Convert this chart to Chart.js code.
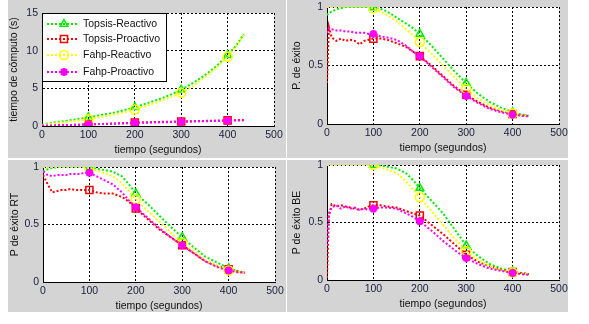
<!DOCTYPE html>
<html>
<head>
<meta charset="utf-8">
<script src="https://cdn.jsdelivr.net/npm/chart.js@4/dist/chart.umd.min.js"></script>
<style>
  body { margin: 0; background: #fff; }
  .panel { position: absolute; background: #d4d4d4; }
</style>
</head>
<body>
<div class="panel" style="left:8px;top:0;width:278px;height:158px"><canvas id="c1"></canvas></div>
<div class="panel" style="left:287px;top:0;width:281px;height:158px"><canvas id="c2"></canvas></div>
<div class="panel" style="left:8px;top:160px;width:278px;height:152px"><canvas id="c3"></canvas></div>
<div class="panel" style="left:287px;top:160px;width:281px;height:152px"><canvas id="c4"></canvas></div>
<script>
// ---------- DATA ----------
const tiempo = [0, 4, 10, 20, 30, 40, 50, 60, 70, 80, 90, 100, 115, 130, 150, 170, 185, 200, 225, 250, 275, 300, 325, 350, 375, 400, 420, 435];
const marcas = [100, 200, 300, 400];
const nombres = ["Topsis-Reactivo", "Topsis-Proactivo", "Fahp-Reactivo", "Fahp-Proactivo"];

// tiempo de cómputo (s)
const computoTopsisR = [0.15, 0.2, 0.3, 0.4, 0.5, 0.6, 0.65, 0.75, 0.85, 0.95, 1.05, 1.15, 1.3, 1.5, 1.7, 2.0, 2.25, 2.5, 3.0, 3.5, 4.1, 4.8, 5.7, 6.7, 7.9, 9.4, 10.8, 12.2];
const computoTopsisP = [0.05, 0.05, 0.06, 0.07, 0.09, 0.1, 0.12, 0.14, 0.16, 0.18, 0.19, 0.2, 0.24, 0.28, 0.32, 0.37, 0.41, 0.45, 0.5, 0.54, 0.57, 0.6, 0.64, 0.68, 0.72, 0.75, 0.78, 0.8];
const computoFahpR = [0.1, 0.15, 0.2, 0.3, 0.35, 0.45, 0.5, 0.6, 0.7, 0.75, 0.85, 0.9, 1.05, 1.25, 1.45, 1.7, 1.95, 2.2, 2.7, 3.2, 3.8, 4.4, 5.3, 6.4, 7.7, 9.2, 10.7, 12.1];
const computoFahpP = [0.05, 0.05, 0.06, 0.07, 0.08, 0.09, 0.11, 0.13, 0.15, 0.17, 0.19, 0.2, 0.23, 0.26, 0.29, 0.33, 0.37, 0.4, 0.44, 0.48, 0.52, 0.55, 0.59, 0.63, 0.67, 0.7, 0.73, 0.75];

// P. de éxito
const exitoTopsisR = [0.93, 0.95, 0.96, 0.98, 0.99, 1, 1, 1, 1, 1, 1, 0.995, 0.985, 0.96, 0.91, 0.86, 0.82, 0.77, 0.67, 0.56, 0.45, 0.35, 0.26, 0.19, 0.14, 0.1, 0.08, 0.07];
const exitoTopsisP = [0.35, 0.83, 0.74, 0.71, 0.73, 0.71, 0.72, 0.71, 0.68, 0.71, 0.72, 0.73, 0.73, 0.72, 0.69, 0.66, 0.62, 0.58, 0.5, 0.41, 0.32, 0.25, 0.19, 0.14, 0.11, 0.085, 0.075, 0.07];
const exitoFahpR = [1, 1, 1, 1, 1, 1, 1, 1, 1, 1, 1, 0.99, 0.96, 0.93, 0.88, 0.81, 0.76, 0.7, 0.6, 0.5, 0.4, 0.3, 0.22, 0.16, 0.12, 0.09, 0.075, 0.07];
const exitoFahpP = [0.78, 0.82, 0.81, 0.8, 0.8, 0.79, 0.79, 0.78, 0.78, 0.78, 0.77, 0.77, 0.75, 0.74, 0.72, 0.67, 0.62, 0.58, 0.49, 0.4, 0.31, 0.24, 0.18, 0.13, 0.1, 0.08, 0.07, 0.065];

// P de éxito RT
const rtTopsisR = [0.96, 0.97, 0.98, 0.99, 1, 1, 1, 1, 1, 1, 1, 0.995, 0.985, 0.975, 0.96, 0.92, 0.85, 0.77, 0.68, 0.58, 0.48, 0.39, 0.3, 0.22, 0.17, 0.12, 0.095, 0.08];
const rtTopsisP = [0.93, 0.9, 0.85, 0.78, 0.79, 0.8, 0.8, 0.81, 0.8, 0.8, 0.8, 0.8, 0.78, 0.77, 0.77, 0.74, 0.7, 0.64, 0.55, 0.46, 0.39, 0.32, 0.25, 0.18, 0.14, 0.11, 0.09, 0.08];
const rtFahpR = [1, 1, 1, 1, 1, 1, 1, 1, 1, 1, 1, 0.995, 0.97, 0.95, 0.92, 0.86, 0.79, 0.72, 0.62, 0.53, 0.43, 0.34, 0.27, 0.19, 0.14, 0.1, 0.09, 0.08];
const rtFahpP = [0.96, 0.95, 0.93, 0.92, 0.93, 0.93, 0.93, 0.94, 0.94, 0.94, 0.95, 0.95, 0.92, 0.89, 0.85, 0.78, 0.71, 0.65, 0.56, 0.47, 0.39, 0.32, 0.25, 0.18, 0.13, 0.1, 0.085, 0.08];

// P de éxito BE
const beTopsisR = [1, 1, 1, 1, 1, 1, 1, 1, 1, 1, 1, 1, 0.995, 0.985, 0.97, 0.93, 0.87, 0.8, 0.69, 0.58, 0.44, 0.3, 0.21, 0.14, 0.1, 0.075, 0.06, 0.05];
const beTopsisP = [0.02, 0.55, 0.66, 0.64, 0.65, 0.64, 0.63, 0.62, 0.61, 0.62, 0.64, 0.65, 0.65, 0.64, 0.63, 0.6, 0.58, 0.56, 0.48, 0.4, 0.31, 0.22, 0.16, 0.12, 0.09, 0.07, 0.06, 0.05];
const beFahpR = [1, 1, 1, 1, 1, 1, 1, 1, 1, 1, 1, 1, 0.98, 0.96, 0.93, 0.86, 0.79, 0.72, 0.6, 0.48, 0.36, 0.25, 0.18, 0.12, 0.09, 0.065, 0.055, 0.05];
const beFahpP = [0.3, 0.58, 0.63, 0.65, 0.62, 0.64, 0.62, 0.63, 0.61, 0.62, 0.61, 0.62, 0.63, 0.63, 0.62, 0.58, 0.55, 0.51, 0.43, 0.34, 0.26, 0.19, 0.14, 0.1, 0.08, 0.06, 0.05, 0.045];

// ---------- STYLES ----------
const estilos = [
  { color: "#00ee00", point: "triangle", r: 4.5, order: 4 },
  { color: "#ff0000", point: "rect", r: 5, order: 3 },
  { color: "#ffff00", point: "circle", r: 4.5, order: 2 },
  { color: "#ff00ff", point: "star", r: 4, order: 1 }
];
const FONT = { family: "'Liberation Sans', Arial, sans-serif", size: 10.5 };
const TICKCOL = "#1c1c3c";

const plotBg = {
  id: "plotBg",
  beforeDraw(chart) {
    const a = chart.chartArea, ctx = chart.ctx;
    ctx.save();
    ctx.fillStyle = "#fff";
    ctx.fillRect(a.left, a.top, a.right - a.left, a.bottom - a.top);
    ctx.restore();
  }
};

const legendBox = {
  id: "legendBox",
  afterDraw(chart) {
    const a = chart.chartArea, ctx = chart.ctx;
    const x0 = a.left, y0 = a.top;
    ctx.save();
    ctx.fillStyle = "#fff";
    ctx.fillRect(x0, y0, 124, 68);
    ctx.strokeStyle = "#000";
    ctx.lineWidth = 1;
    ctx.strokeRect(x0 + 0.5, y0 + 0.5, 124, 68);
    const rows = [11, 26, 42, 59];
    chart.data.datasets.forEach((ds, i) => {
      const y = y0 + rows[i];
      const s = estilos[i];
      ctx.strokeStyle = s.color;
      ctx.lineWidth = 2;
      ctx.setLineDash([2, 2]);
      ctx.beginPath();
      ctx.moveTo(x0 + 5, y);
      ctx.lineTo(x0 + 37, y);
      ctx.stroke();
      ctx.setLineDash([]);
      ctx.fillStyle = s.point === "star" ? s.color : "rgba(0,0,0,0)";
      ctx.lineWidth = ds.pointBorderWidth;
      Chart.helpers.drawPoint(ctx, { pointStyle: s.point, radius: s.r, borderWidth: ds.pointBorderWidth }, x0 + 22, y);
      ctx.fillStyle = "#111";
      ctx.font = FONT.size + "px " + FONT.family;
      ctx.textBaseline = "middle";
      ctx.fillText(nombres[i], x0 + 41, y + 0.5);
    });
    ctx.restore();
  }
};

function makeChart(id, series, cfg) {
  const datasets = series.map((vals, i) => {
    const s = estilos[i];
    return {
      label: nombres[i],
      data: vals.map((v, j) => ({ x: tiempo[j], y: v })),
      borderColor: s.color,
      backgroundColor: "rgba(0,0,0,0)",
      borderWidth: 2,
      borderDash: [2, 2],
      pointStyle: s.point,
      pointBorderColor: s.color,
      pointBackgroundColor: s.point === "star" ? s.color : "rgba(0,0,0,0)",
      pointBorderWidth: s.point === "star" ? 2.5 : 1.5,
      pointRadius: ctx => marcas.includes(tiempo[ctx.dataIndex]) ? s.r : 0,
      tension: 0,
      order: s.order
    };
  });

  return new Chart(document.getElementById(id), {
    type: "line",
    data: { datasets },
    plugins: cfg.legend ? [plotBg, legendBox] : [plotBg],
    options: {
      responsive: true,
      maintainAspectRatio: false,
      animation: false,
      layout: { padding: { top: cfg.top, right: cfg.right, left: 0, bottom: 0 } },
      plugins: { legend: { display: false }, tooltip: { enabled: false } },
      scales: {
        x: {
          type: "linear",
          min: 0, max: 500,
          ticks: { stepSize: 100, color: TICKCOL, font: FONT, padding: 3, maxRotation: 0 },
          grid: { color: "#000", lineWidth: 1, drawTicks: false },
          border: { color: "#000", width: 1, dash: [2, 2] },
          title: { display: true, text: "tiempo (segundos)", color: "#111", font: FONT, padding: { top: 0, bottom: cfg.xtp } },
          afterFit(sc) { sc.height = cfg.xh; sc.paddingLeft = 0; sc.paddingRight = 0; }
        },
        y: {
          min: 0, max: cfg.ymax,
          ticks: { stepSize: cfg.step, color: TICKCOL, font: FONT, padding: 4, callback: v => String(+v.toFixed(2)) },
          grid: { color: "#000", lineWidth: 1, drawTicks: false },
          border: { color: "#000", width: 1, dash: [2, 2] },
          title: { display: true, text: cfg.ytitle, color: "#111", font: FONT, padding: { top: cfg.ytp, bottom: 0 } },
          afterFit(sc) { sc.width = cfg.yw; sc.paddingTop = 0; sc.paddingBottom = 0; }
        }
      }
    }
  });
}

makeChart("c1", [computoTopsisR, computoTopsisP, computoFahpR, computoFahpP],
  { ymax: 15, step: 5, ytitle: "tiempo de cómputo (s)", top: 13, right: 12, yw: 34, xh: 32, xtp: 2, ytp: 0, legend: true });
makeChart("c2", [exitoTopsisR, exitoTopsisP, exitoFahpR, exitoFahpP],
  { ymax: 1, step: 0.5, ytitle: "P. de éxito", top: 7, right: 9, yw: 40, xh: 34, xtp: 4, ytp: 4 });
makeChart("c3", [rtTopsisR, rtTopsisP, rtFahpR, rtFahpP],
  { ymax: 1, step: 0.5, ytitle: "P de éxito RT", top: 7, right: 11, yw: 35, xh: 30, xtp: 0, ytp: 1 });
makeChart("c4", [beTopsisR, beTopsisP, beFahpR, beFahpP],
  { ymax: 1, step: 0.5, ytitle: "P de éxito BE", top: 5, right: 9, yw: 40, xh: 32, xtp: 2, ytp: 4 });
</script>
</body>
</html>
